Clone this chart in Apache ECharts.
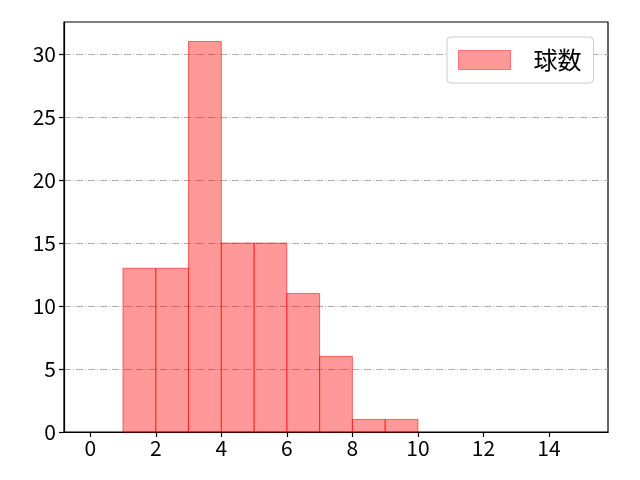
<!DOCTYPE html>
<html><head><meta charset="utf-8">
<script src="https://cdn.jsdelivr.net/npm/echarts@6/dist/echarts.min.js"></script>
<style>html,body{margin:0;padding:0;background:#fff}#c{width:640px;height:480px}</style>
</head><body><div id="c"></div>
<script>
var binStarts = [1, 2, 3, 4, 5, 6, 7, 8, 9];
var binWidth = 1;
var counts = [13, 13, 31, 15, 15, 11, 6, 1, 1];
var xTicks = [0, 2, 4, 6, 8, 10, 12, 14];
var yTicks = [0, 5, 10, 15, 20, 25, 30];
var seriesName = '球数';

var data = binStarts.map(function (s, i) { return [s, s + binWidth, counts[i]]; });
var font = '"Noto Sans CJK JP", "DejaVu Sans", sans-serif';
var chart = echarts.init(document.getElementById('c'));
chart.setOption({
  animation: false,
  backgroundColor: '#fff',
  grid: { left: 64, right: 32, top: 22, bottom: 48, show: true, borderColor: '#000', borderWidth: 1.2, backgroundColor: 'transparent' },
  legend: {
    left: 447, top: 37,
    padding: [11, 12, 11, 11],
    backgroundColor: '#fff', borderColor: '#cccccc', borderWidth: 1, borderRadius: 4,
    itemWidth: 52, itemHeight: 19, itemGap: 10,
    icon: 'rect',
    textStyle: { fontFamily: font, fontSize: 24, lineHeight: 24, color: '#000', padding: [0, 0, 0, 18] },
    data: [{ name: seriesName, itemStyle: { color: 'rgba(255,0,0,0.4)', borderColor: 'rgba(255,0,0,0.45)', borderWidth: 1 } }]
  },
  xAxis: {
    type: 'value', min: -0.8, max: 15.8,
    axisLine: { show: true, onZero: false, lineStyle: { color: '#000', width: 1.2 } },
    axisTick: { show: true, inside: false, length: 5, customValues: xTicks, lineStyle: { color: '#000', width: 1.2 } },
    axisLabel: { customValues: xTicks, fontFamily: font, fontSize: 21, color: '#000', margin: 6 },
    splitLine: { show: false }
  },
  yAxis: {
    type: 'value', min: 0, max: 32.55,
    axisLine: { show: true, onZero: false, lineStyle: { color: '#000', width: 1.2 } },
    axisTick: { show: true, inside: false, length: 5, customValues: yTicks, lineStyle: { color: '#000', width: 1.2 } },
    axisLabel: { customValues: yTicks, fontFamily: font, fontSize: 21, color: '#000', margin: 8 },
    splitLine: { show: true, lineStyle: { color: '#b0b0b0', width: 1, type: [7, 2, 1, 2] } }
  },
  series: [{
    name: seriesName,
    type: 'custom',
    renderItem: function (params, api) {
      var p0 = api.coord([api.value(0), 0]);
      var p1 = api.coord([api.value(1), api.value(2)]);
      return {
        type: 'rect',
        shape: { x: p0[0], y: p1[1], width: p1[0] - p0[0], height: p0[1] - p1[1] },
        style: { fill: 'rgba(255,0,0,0.4)', stroke: 'rgba(255,0,0,0.55)', lineWidth: 1 }
      };
    },
    encode: { x: [0, 1], y: 2 },
    data: data
  }]
});
</script></body></html>
